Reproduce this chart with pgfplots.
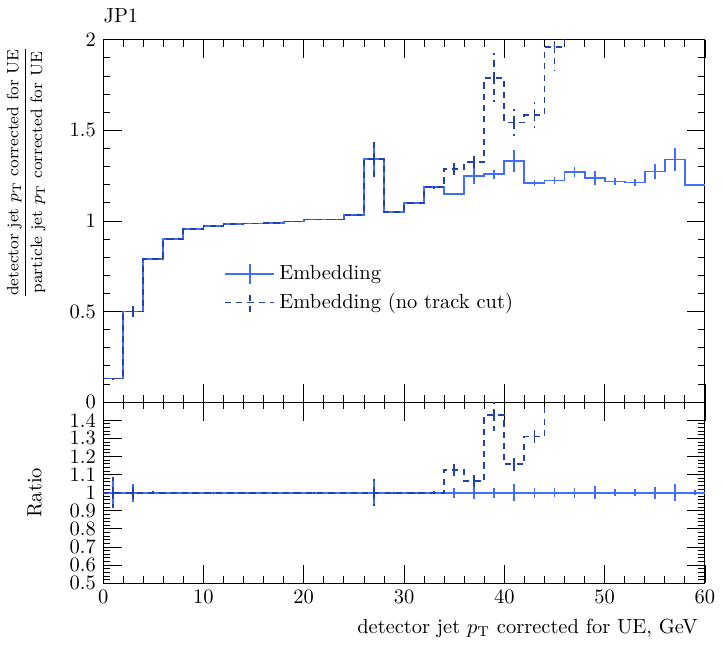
\documentclass[border=0pt]{standalone}
\usepackage{pgfplots}
\usepackage{pgfplotstable}
\usepackage{amsmath}
\pgfplotsset{compat=1.18}
\definecolor{solidc}{RGB}{64,110,255}
\definecolor{dashc}{RGB}{35,65,170}

% left bin edge, solid value, solid err, dashed value, dashed err
\pgfplotstableread{
x y ye yd yde
0 0.130 0.004 0.130 0.004
2 0.500 0.028 0.500 0.028
4 0.790 0.005 0.790 0.005
6 0.900 0.003 0.900 0.003
8 0.955 0.003 0.955 0.003
10 0.970 0.002 0.970 0.002
12 0.982 0.002 0.982 0.002
14 0.986 0.002 0.986 0.002
16 0.990 0.002 0.990 0.002
18 0.997 0.002 0.997 0.002
20 1.008 0.002 1.008 0.002
22 1.008 0.002 1.008 0.002
24 1.032 0.002 1.032 0.002
26 1.340 0.097 1.340 0.097
28 1.048 0.003 1.048 0.003
30 1.098 0.003 1.098 0.003
32 1.185 0.010 1.185 0.010
34 1.148 0.006 1.288 0.034
36 1.250 0.046 1.326 0.058
38 1.258 0.025 1.790 0.136
40 1.330 0.060 1.543 0.075
42 1.208 0.018 1.585 0.073
44 1.223 0.019 1.960 0.130
46 1.269 0.028 2.500 0.000
48 1.236 0.038 2.500 0.000
50 1.218 0.020 2.500 0.000
52 1.212 0.018 2.500 0.000
54 1.273 0.040 2.500 0.000
56 1.339 0.062 2.500 0.000
58 1.196 0.005 2.500 0.000
60 1.196 0.000 2.500 0.000
}\toptab

\pgfplotstableread{
x r re rd rde
0 1 0.087 1 0.087
2 1 0.050 1 0.050
4 1 0.010 1 0.010
6 1 0.003 1 0.003
8 1 0.003 1 0.003
10 1 0.002 1 0.002
12 1 0.002 1 0.002
14 1 0.002 1 0.002
16 1 0.002 1 0.002
18 1 0.002 1 0.002
20 1 0.002 1 0.002
22 1 0.002 1 0.002
24 1 0.002 1 0.002
26 1 0.075 1 0.075
28 1 0.003 1 0.003
30 1 0.003 1 0.003
32 1 0.010 1 0.010
34 1 0.027 1.125 0.035
36 1 0.037 1.0625 0.040
38 1 0.027 1.428 0.090
40 1 0.046 1.156 0.055
42 1 0.027 1.310 0.060
44 1 0.024 1.700 0.000
46 1 0.027 1.700 0.000
48 1 0.037 1.700 0.000
50 1 0.020 1.700 0.000
52 1 0.020 1.700 0.000
54 1 0.033 1.700 0.000
56 1 0.048 1.700 0.000
58 1 0.015 1.700 0.000
60 1 0.000 1.700 0.000
}\ratiotab

\pgfplotsset{
  every axis/.append style={
    scale only axis,
    width=294pt,
    xmin=0, xmax=60,
    xtick={0,10,...,60},
    minor x tick num=4,
    major tick length=9pt,
    minor tick length=3.5pt,
    tick style={black, line width=0.4pt},
    axis line style={line width=0.5pt},
  },
  solidhist/.style={solidc, line width=0.9pt, const plot mark left, mark=none},
  dashhist/.style={dashc, line width=0.9pt, dash pattern=on 3pt off 2.5pt, const plot mark left, mark=none},
  solideb/.style={solidc, draw=none, mark=none, forget plot,
    error bars/.cd, y dir=both, y explicit, error mark=none,
    error bar style={draw=solidc, line width=0.9pt, solid}},
  dasheb/.style={dashc, draw=none, mark=none, forget plot,
    error bars/.cd, y dir=both, y explicit, error mark=none,
    error bar style={draw=dashc, line width=0.9pt, dash pattern=on 3pt off 2.5pt}},
}

\begin{document}
\begin{tikzpicture}
\begin{axis}[
  name=top,
  height=177pt,
  ymin=0, ymax=2,
  ytick={0,0.5,1,1.5,2},
  yticklabels={0,0.5,1,1.5,2},
  minor y tick num=4,
  xticklabels={},
  title={\rule{0pt}{11pt}JP1},
  title style={at={(axis description cs:0,1)}, anchor=south west, inner sep=0pt, yshift=2pt},
  ylabel={\footnotesize$\dfrac{\text{detector jet }p_{\mathrm{T}}\text{ corrected for UE}}{\text{particle jet }p_{\mathrm{T}}\text{ corrected for UE}}$},
  ylabel style={at={(axis description cs:-0.128,1)}, anchor=east},
  legend style={draw=none, fill=none, at={(axis description cs:0.19,0.40)}, anchor=north west, row sep=1pt, font=\normalsize},
  legend cell align=left,
]
\addplot[solidhist,
  legend image code/.code={
    \draw[solidc, line width=0.9pt] (0cm,0cm) -- (0.85cm,0cm);
    \draw[solidc, line width=0.9pt] (0.425cm,-0.17cm) -- (0.425cm,0.17cm);}
] table[x=x, y=y] {\toptab};
\addlegendentry{Embedding}
\addplot[dashhist,
  legend image code/.code={
    \draw[dashc, line width=0.9pt, dash pattern=on 3pt off 2.5pt] (0cm,0cm) -- (0.85cm,0cm);
    \draw[dashc, line width=0.9pt, dash pattern=on 3pt off 2.5pt] (0.425cm,-0.17cm) -- (0.425cm,0.17cm);}
] table[x=x, y=yd] {\toptab};
\addlegendentry{Embedding (no track cut)}
\addplot[solideb] table[x expr={\thisrow{x}>59 ? nan : \thisrow{x}+1}, y=y, y error=ye] {\toptab};
\addplot[dasheb] table[x expr={\thisrow{x}>59 ? nan : \thisrow{x}+1}, y=yd, y error=yde] {\toptab};
\end{axis}

\begin{axis}[
  at={(top.south west)}, anchor=north west,
  height=88.5pt,
  ymin=0.5, ymax=1.5,
  ytick={0.5,0.6,0.7,0.8,0.9,1,1.1,1.2,1.3,1.4},
  yticklabels={0.5,0.6,0.7,0.8,0.9,1,1.1,1.2,1.3,1.4},
  minor y tick num=4,
  ylabel={Ratio},
  ylabel style={at={(axis description cs:-0.114,0.5)}, anchor=center},
  xlabel={detector jet $p_{\mathrm{T}}$ corrected for UE, GeV},
  xlabel style={at={(axis description cs:1,0)}, anchor=north east, yshift=-14pt},
]
\addplot[solidhist] table[x=x, y=r] {\ratiotab};
\addplot[dashhist] table[x=x, y=rd] {\ratiotab};
\addplot[solideb] table[x expr={\thisrow{x}>59 ? nan : \thisrow{x}+1}, y=r, y error=re] {\ratiotab};
\addplot[dasheb] table[x expr={\thisrow{x}>59 ? nan : \thisrow{x}+1}, y=rd, y error=rde] {\ratiotab};
\end{axis}
\end{tikzpicture}
\end{document}
